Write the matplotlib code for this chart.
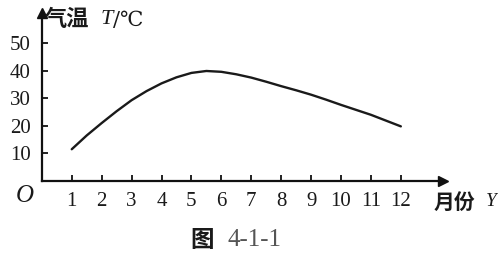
import matplotlib.pyplot as plt

# readings taken off the curve every half month
months = [1, 1.5, 2, 2.5, 3, 3.5, 4, 4.5, 5, 5.5, 6, 6.5,
          7, 7.5, 8, 8.5, 9, 9.5, 10, 10.5, 11, 11.5, 12]
temps = [11.5, 16.5, 21.0, 25.3, 29.3, 32.6, 35.4, 37.6, 39.2, 39.9, 39.6, 38.7,
         37.5, 36.0, 34.4, 32.9, 31.3, 29.5, 27.6, 25.8, 24.0, 21.9, 19.8]

x_ticks = list(range(1, 13))
y_ticks = [10, 20, 30, 40, 50]

serif = ["Liberation Serif", "DejaVu Serif"]
cjk = ["Noto Sans CJK SC", "DejaVu Sans"]

fig = plt.figure(figsize=(4.98, 2.57), dpi=100)
ax = fig.add_axes([0.084, 0.296, 0.805, 0.654])

ax.plot(months, temps, color="#1a1a1a", lw=1.7, solid_capstyle="round")

ax.set_xlim(0, 13.4)
ax.set_ylim(0, 61)

for s in ["top", "right"]:
    ax.spines[s].set_visible(False)
for s in ["left", "bottom"]:
    ax.spines[s].set_linewidth(1.6)
    ax.spines[s].set_color("#111111")

# arrow heads on the axes
ax.plot(1, 0, marker=">", color="#111111", ms=7, transform=ax.get_yaxis_transform(), clip_on=False)
ax.plot(0, 1, marker="^", color="#111111", ms=7, transform=ax.get_xaxis_transform(), clip_on=False)

ax.set_xticks(x_ticks)
ax.set_yticks(y_ticks)
ax.tick_params(direction="in", length=4, width=1.3, color="#111111",
               labelsize=15, labelcolor="#1a1a1a")
ax.tick_params(axis="x", pad=8)
ax.tick_params(axis="y", pad=8)
for lab in ax.get_xticklabels() + ax.get_yticklabels():
    lab.set_family(serif)

# origin and axis titles
fig.text(25 / 498, 1 - 196 / 257, "O", family=serif, style="italic", fontsize=18,
         ha="center", va="center", color="#1a1a1a")
fig.text(45 / 498, 1 - 20 / 257, "气温", family=cjk, fontweight="bold", fontsize=16,
         ha="left", va="center", color="#1a1a1a")
fig.text(101 / 498, 1 - 20 / 257, "T", family=serif, style="italic", fontsize=16,
         ha="left", va="center", color="#1a1a1a")
fig.text(113 / 498, 1 - 20 / 257, "/℃", family=["DejaVu Serif"], fontsize=15,
         ha="left", va="center", color="#1a1a1a")
fig.text(434 / 498, 1 - 202 / 257, "月份", family=cjk, fontweight="bold", fontsize=15,
         ha="left", va="center", color="#1a1a1a")
fig.text(486 / 498, 1 - 202 / 257, "Y", family=serif, style="italic", fontsize=14,
         ha="left", va="center", color="#1a1a1a")

# caption
fig.text(190 / 498, 1 - 240 / 257, "图", family=cjk, fontweight="bold", fontsize=17,
         ha="left", va="center", color="#1a1a1a")
fig.text(227 / 498, 1 - 240 / 257, "4-1-1", family=serif, fontsize=18,
         ha="left", va="center", color="#555555")

fig.savefig("out.png", dpi=100)
